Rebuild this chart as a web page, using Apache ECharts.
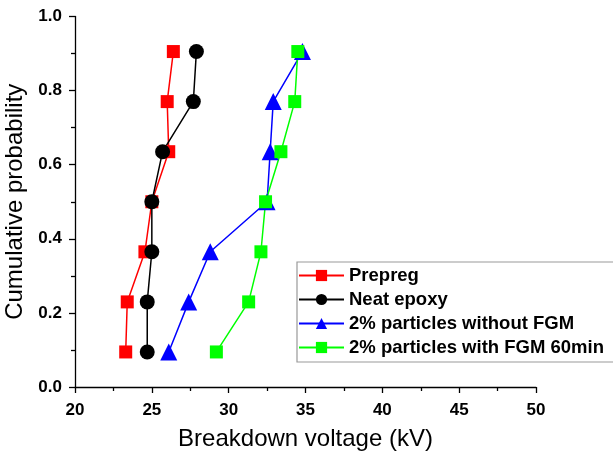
<!DOCTYPE html>
<html><head><meta charset="utf-8">
<script src="https://cdn.jsdelivr.net/npm/echarts@6/dist/echarts.min.js"></script>
<style>html,body{margin:0;padding:0;background:#fff}#c{width:613px;height:462px}</style>
</head><body><div id="c"></div>
<script>
var probability = [0.0946, 0.2297, 0.3649, 0.5, 0.6351, 0.7703, 0.9054];
var prepreg = [23.3, 23.4, 24.55, 25.0, 26.1, 26.0, 26.4];
var neatEpoxy = [24.7, 24.7, 25.0, 25.0, 25.7, 27.7, 27.9];
var noFGM = [26.1, 27.4, 28.8, 32.5, 32.7, 32.9, 34.8];
var withFGM = [29.2, 31.3, 32.1, 32.4, 33.4, 34.3, 34.5];
var names = ['Prepreg', 'Neat epoxy', '2% particles without FGM', '2% particles with FGM 60min'];
var colors = ['#ff0000', '#000000', '#0000ff', '#00ff00'];
var symbols = ['rect', 'circle', 'triangle', 'rect'];
var sizes = [13, 15, 17, 13];
var xTicks = [20, 25, 30, 35, 40, 45, 50];

function pairs(xs){ return xs.map(function(v,i){ return [v, probability[i]]; }); }
var all = [prepreg, neatEpoxy, noFGM, withFGM];
var series = all.map(function(d,i){
  return {
    name: names[i], type: 'line', data: pairs(d),
    symbol: symbols[i], symbolSize: sizes[i],
    lineStyle: {color: colors[i], width: 1.5},
    itemStyle: {color: colors[i]},
    emphasis: {disabled: true}, animation: false
  };
});
var font = 'Liberation Sans, Arial';
var chart = echarts.init(document.getElementById('c'));
chart.setOption({
  animation: false,
  grid: {left: 75, right: 77, top: 16.5, bottom: 75, containLabel: false, outerBoundsMode: 'none'},
  legend: {
    left: 297, top: 262, orient: 'vertical',
    data: names, itemWidth: 45, itemHeight: 14, itemGap: 5,
    borderColor: '#999', borderWidth: 1.2, padding: [4, 10, 5, 1],
    backgroundColor: '#fff',
    textStyle: {fontFamily: font, fontWeight: 'bold', fontSize: 18.5, color: '#000'}
  },
  xAxis: {
    type: 'value', min: 20, max: 50, interval: 5,
    name: 'Breakdown voltage (kV)', nameLocation: 'middle', nameGap: 40,
    nameTextStyle: {fontFamily: font, fontSize: 24, color: '#000'},
    axisLine: {show: true, onZero: false, lineStyle: {color: '#000', width: 1.3}},
    axisTick: {show: true, length: 6, lineStyle: {color: '#000', width: 1.3}},
    minorTick: {show: true, splitNumber: 2, length: 4, lineStyle: {color: '#000', width: 1.3}},
    axisLabel: {fontFamily: font, fontWeight: 'bold', fontSize: 17, color: '#000', margin: 15,
      formatter: function(v){ return xTicks.indexOf(v) >= 0 ? String(v) : ''; }},
    splitLine: {show: false}
  },
  yAxis: {
    type: 'value', min: 0, max: 1, interval: 0.2,
    name: 'Cumulative probability', nameLocation: 'middle', nameGap: 39, nameRotate: 90,
    nameTextStyle: {fontFamily: font, fontSize: 24, color: '#000'},
    axisLine: {show: true, onZero: false, lineStyle: {color: '#000', width: 1.3}},
    axisTick: {show: true, length: 6, lineStyle: {color: '#000', width: 1.3}},
    minorTick: {show: true, splitNumber: 2, length: 4, lineStyle: {color: '#000', width: 1.3}},
    axisLabel: {fontFamily: font, fontWeight: 'bold', fontSize: 17, color: '#000', margin: 13,
      formatter: function(v){ return v.toFixed(1); }},
    splitLine: {show: false}
  },
  series: series
});
</script></body></html>
